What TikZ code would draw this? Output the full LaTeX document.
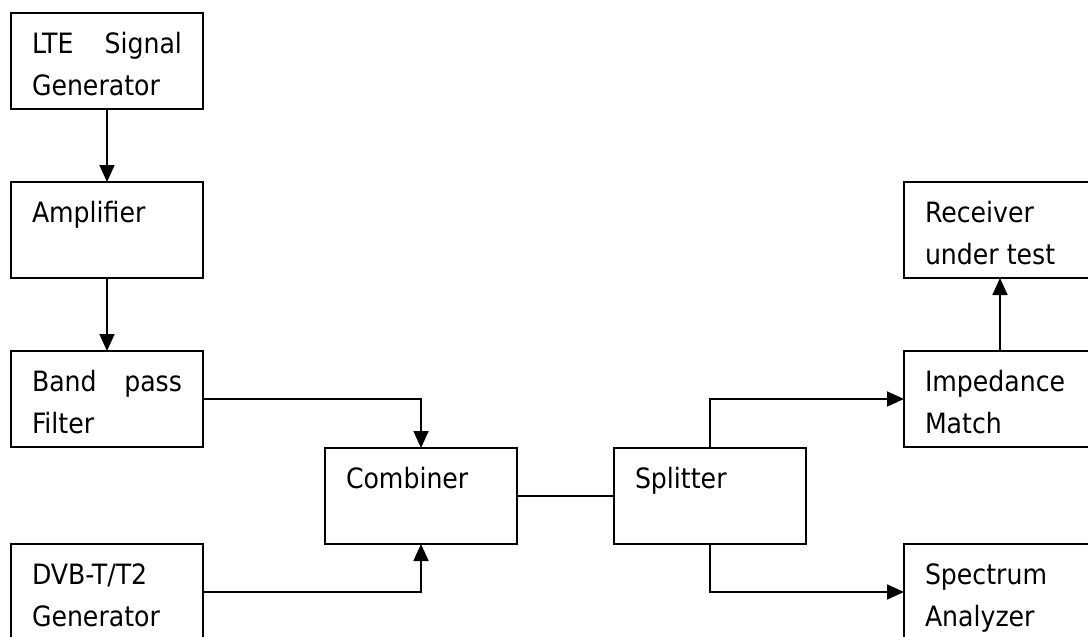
\documentclass[tikz,border=0pt]{standalone}
\usepackage{fontspec}
\setmainfont{DejaVu Sans Condensed}
\usetikzlibrary{arrows.meta}
\tikzset{
  box/.style={draw=black, line width=2.2pt, minimum width=192pt, minimum height=96pt, inner sep=0pt, outer sep=0pt, anchor=north west},
  thinbox/.style={box, line width=1.8pt},
  lbl/.style={anchor=north west, inner sep=0pt, outer sep=0pt, align=left, font=\fontsize{28}{42}\selectfont},
  conn/.style={line width=1.7pt, draw=black},
  arr/.style={conn, -{Triangle[length=17pt,width=15pt]}}
}
\newcommand{\jline}[2]{\makebox[150pt][l]{#1\hfill #2}}
\begin{document}
\begin{tikzpicture}[x=1pt,y=-1pt]
\useasboundingbox (0,0) rectangle (1088,637);
\clip (0,0) rectangle (1088,637);
\fill[white] (0,0) rectangle (1088,637);
% boxes
\node[box] (lte) at (11,13) {};
\node[box] (amp) at (11,182) {};
\node[thinbox] (bpf) at (11,351) {};
\node[thinbox] (dvb) at (11,544) {};
\node[box] (comb) at (325,448) {};
\node[box] (split) at (614,448) {};
\node[thinbox] (rec) at (904,182) {};
\node[thinbox] (imp) at (904,351) {};
\node[thinbox] (spec) at (904,544) {};
% labels (first baseline at top+40)
\node[lbl] (lteT) at (32,23.6) {\strut\jline{LTE}{Signal}\\Generator};
\node[lbl] (ampT) at (32,192.6) {\strut Amplifier};
\node[lbl] (bpfT) at (32,361.6) {\strut\jline{Band}{pass}\\Filter};
\node[lbl] (dvbT) at (32,554.6) {\strut DVB-T/T2\\Generator};
\node[lbl] (combT) at (346,458.6) {\strut Combiner};
\node[lbl] (splitT) at (635,458.6) {\strut Splitter};
\node[lbl] (recT) at (925,192.6) {\strut Receiver\\under test};
\node[lbl] (impT) at (925,361.6) {\strut Impedance\\Match};
\node[lbl] (specT) at (925,554.6) {\strut Spectrum\\Analyzer};
% connectors
\draw[arr] (lte.south) -- (amp.north);
\draw[arr] (amp.south) -- (bpf.north);
\draw[arr] (bpf.east) -| (comb.north);
\draw[arr] (dvb.east) -| (comb.south);
\draw[conn] (comb.east) -- (split.west);
\draw[arr] (split.north) |- (imp.west);
\draw[arr] (split.south) |- (spec.west);
\draw[arr] (imp.north) -- (rec.south);
\end{tikzpicture}
\end{document}
